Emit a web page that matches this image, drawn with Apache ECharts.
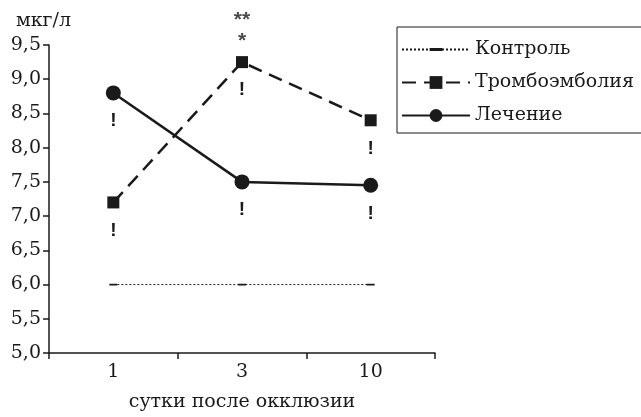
<!DOCTYPE html>
<html>
<head>
<meta charset="utf-8">
<script src="https://cdn.jsdelivr.net/npm/echarts@6/dist/echarts.min.js"></script>
<style>
  html, body { margin: 0; padding: 0; background: #fff; }
  #chart { width: 641px; height: 417px; }
</style>
</head>
<body>
<div id="chart"></div>
<script>
// данные графика
const days = ["1", "3", "10"];
const controlValues = [6.0, 6.0, 6.0];
const tromboValues = [7.2, 9.25, 8.4];
const treatValues = [8.8, 7.5, 7.45];
const tromboMarks = ["!", "!", "!"];
const treatMarks = ["!", "!", "!"];
const sigMarks = ["", "**\n*", ""];

const INK = "#1a1a1a";
const SERIF = "DejaVu Serif";
const SANS = "Liberation Sans";
const FS = 19;

// маленький прямоугольник в квадратной рамке, чтобы в легенде не растягивался
const CONTROL_SYMBOL = "path://M0,0L0.01,0L0,0.01Z M0,2.7L7,2.7L7,4.3L0,4.3Z M7,7L6.99,7L7,6.99Z";

const chart = echarts.init(document.getElementById("chart"));

function markLabel(marks) {
  return {
    show: true,
    position: "inside",
    offset: [0, 28],
    formatter: (p) => marks[p.dataIndex],
    fontFamily: SANS,
    fontSize: 19,
    fontWeight: "bold",
    color: INK,
  };
}

chart.setOption({
  animation: false,
  textStyle: { fontFamily: SERIF, color: INK },
  grid: { left: 49, right: 206, top: 45, bottom: 48 },
  legend: {
    orient: "vertical",
    left: 397,
    top: 27,
    data: ["Контроль", "Тромбоэмболия", "Лечение"],
    itemWidth: 68,
    itemHeight: 16,
    itemGap: 14,
    padding: [13, 60, 8, 4],
    borderColor: INK,
    borderWidth: 1,
    textStyle: { fontFamily: SERIF, fontSize: FS, color: INK },
  },
  xAxis: {
    type: "category",
    data: days,
    boundaryGap: true,
    name: "сутки после окклюзии",
    nameLocation: "middle",
    nameGap: 40,
    nameTextStyle: { fontFamily: SERIF, fontSize: FS, color: INK },
    axisLine: { lineStyle: { color: INK, width: 1.5 } },
    axisTick: { show: true, length: 6, lineStyle: { color: INK, width: 1.5 } },
    axisLabel: { fontFamily: SERIF, fontSize: FS, color: INK, margin: 10 },
    splitLine: { show: false },
  },
  yAxis: {
    type: "value",
    min: 5,
    max: 9.5,
    interval: 0.5,
    name: "мкг/л",
    nameLocation: "end",
    nameGap: 14,
    nameTextStyle: { fontFamily: SERIF, fontSize: FS, color: INK, padding: [0, 11, 0, 0] },
    axisLine: { show: true, lineStyle: { color: INK, width: 1.5 } },
    axisTick: { show: true, length: 6, lineStyle: { color: INK, width: 1.5 } },
    axisLabel: {
      fontFamily: SERIF, fontSize: FS, color: INK, margin: 8,
      formatter: (v) => v.toFixed(1).replace(".", ","),
    },
    splitLine: { show: false },
  },
  series: [
    {
      name: "Контроль",
      type: "line",
      data: controlValues,
      symbol: CONTROL_SYMBOL,
      symbolSize: 8,
      itemStyle: { color: INK },
      lineStyle: { color: INK, width: 1, type: [2, 2] },
    },
    {
      name: "Тромбоэмболия",
      type: "line",
      data: tromboValues,
      symbol: "rect",
      symbolSize: 12,
      itemStyle: { color: INK },
      lineStyle: { color: INK, width: 2.5, type: [14, 8] },
      label: markLabel(tromboMarks),
    },
    {
      name: "Лечение",
      type: "line",
      data: treatValues,
      symbol: "circle",
      symbolSize: 15,
      itemStyle: { color: INK },
      lineStyle: { color: INK, width: 2.5 },
      label: markLabel(treatMarks),
    },
    {
      name: "sig",
      type: "scatter",
      data: tromboValues,
      symbolSize: 0,
      silent: true,
      label: {
        show: true,
        position: "inside",
        offset: [0, -31],
        formatter: (p) => sigMarks[p.dataIndex],
        fontFamily: SANS,
        fontSize: 21,
        fontWeight: "bold",
        lineHeight: 21,
        color: INK,
      },
    },
  ],
});
</script>
</body>
</html>
